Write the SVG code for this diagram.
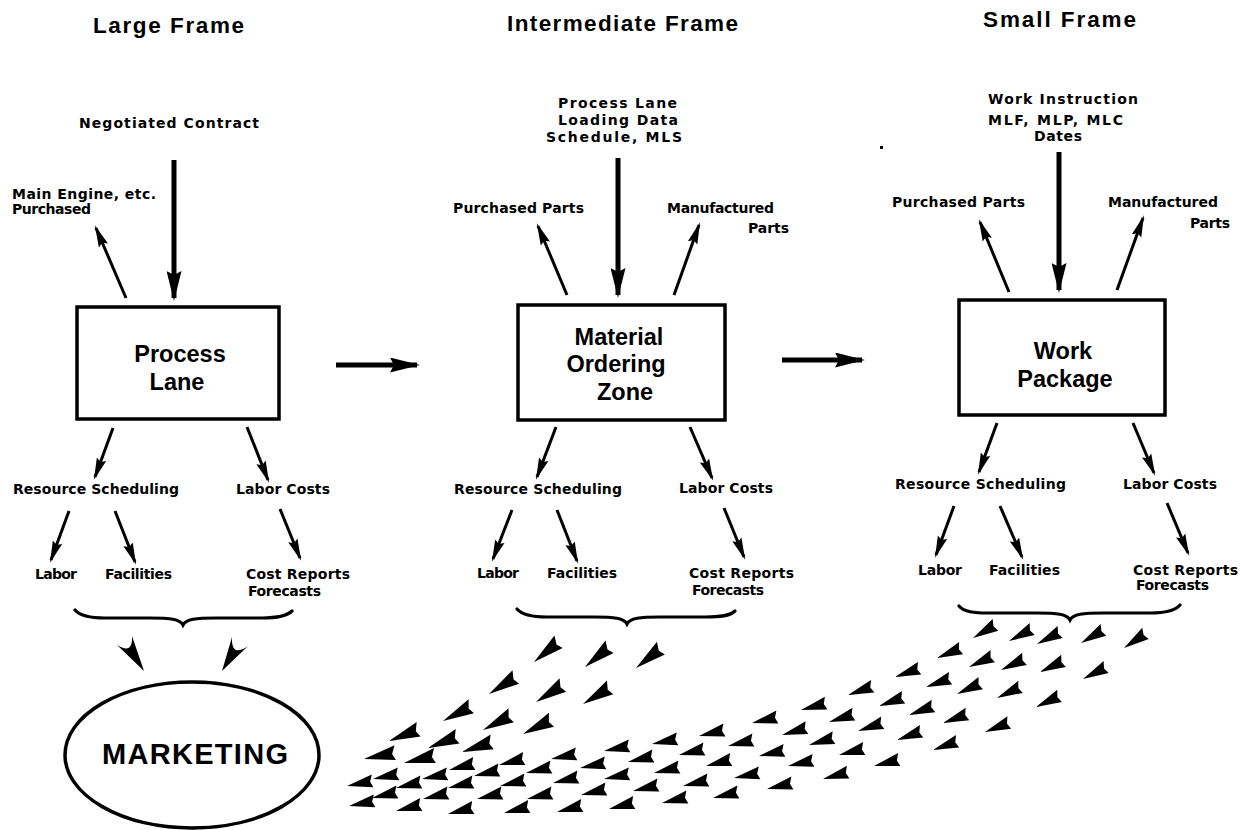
<svg xmlns="http://www.w3.org/2000/svg" xmlns:xlink="http://www.w3.org/1999/xlink" width="1241" height="830" viewBox="0 0 1241 830">
<style>
.t{font-family:"Liberation Sans",Arial,sans-serif;font-weight:bold;fill:#000}
.l{font-family:"DejaVu Sans","Liberation Sans",Arial,sans-serif;font-weight:bold;fill:#000;font-size:14px}
.ttl{font-size:22.5px}
.bx{font-size:23.5px;text-anchor:middle}
.mk{font-size:29px}
.box{fill:#fff;stroke:#000;stroke-width:3.5}
.thin{stroke:#000;stroke-width:3;fill:none;marker-end:url(#mt)}
.thick{stroke:#000;stroke-width:5;fill:none;marker-end:url(#mb)}
.brace{fill:none;stroke:#000;stroke-width:3.2;stroke-linecap:round}
.dart{fill:#000}
</style>
<defs>
<marker id="mt" markerUnits="userSpaceOnUse" viewBox="0 0 22 11" markerWidth="22" markerHeight="11" refX="19" refY="5.5" orient="auto"><path d="M0,0.5 L22,5.5 L0,10.5 L3,5.5 Z" fill="#000"/></marker>
<marker id="mb" markerUnits="userSpaceOnUse" viewBox="0 0 30 15" markerWidth="30" markerHeight="15" refX="27" refY="7.5" orient="auto"><path d="M0,0 L30,7.5 L0,15 L4,7.5 Z" fill="#000"/></marker>
<path id="ds" class="dart" d="M0,0 L26,-8.5 L23.5,-1.5 L26,4.5 Z"/>
<path id="dl" class="dart" d="M0,0 L32,-10 L28.5,-1.5 L31.5,5 Z"/>
</defs>
<rect width="1241" height="830" fill="#fff"/>

<g id="titles">
<text class="t ttl" x="93" y="33" textLength="151" lengthAdjust="spacing">Large Frame</text>
<text class="t ttl" x="507" y="31" textLength="231" lengthAdjust="spacing">Intermediate Frame</text>
<text class="t ttl" x="983" y="27" textLength="153" lengthAdjust="spacing">Small Frame</text>
</g>

<g id="node-process-lane">
<rect class="box" x="77" y="307" width="202" height="112"/>
<text class="t bx" x="180" y="362">Process</text>
<text class="t bx" x="177" y="390">Lane</text>
</g>
<g id="node-material-ordering-zone">
<rect class="box" x="518" y="305" width="207" height="115"/>
<text class="t bx" x="619" y="345">Material</text>
<text class="t bx" x="616" y="372">Ordering</text>
<text class="t bx" x="625" y="400">Zone</text>
</g>
<g id="node-work-package">
<rect class="box" x="959" y="300" width="206" height="115"/>
<text class="t bx" x="1063" y="359">Work</text>
<text class="t bx" x="1065" y="387">Package</text>
</g>
<g id="node-marketing">
<ellipse cx="192" cy="755" rx="127" ry="73" fill="#fff" stroke="#000" stroke-width="3.5"/>
<text class="t mk" x="102" y="764" textLength="186" lengthAdjust="spacing">MARKETING</text>
</g>

<g id="labels-large">
<text class="l" x="79" y="128" textLength="180" lengthAdjust="spacing">Negotiated Contract</text>
<text class="l" x="12" y="199" textLength="144" lengthAdjust="spacing">Main Engine, etc.</text>
<text class="l" x="12" y="214" textLength="79" lengthAdjust="spacing">Purchased</text>
<text class="l" x="13" y="494" textLength="166" lengthAdjust="spacing">Resource Scheduling</text>
<text class="l" x="236" y="494" textLength="94" lengthAdjust="spacing">Labor Costs</text>
<text class="l" x="35" y="579" textLength="42" lengthAdjust="spacing">Labor</text>
<text class="l" x="105" y="579" textLength="67" lengthAdjust="spacing">Facilities</text>
<text class="l" x="246" y="579" textLength="104" lengthAdjust="spacing">Cost Reports</text>
<text class="l" x="248" y="596" textLength="73" lengthAdjust="spacing">Forecasts</text>
</g>
<g id="labels-intermediate">
<text class="l" x="558" y="108" textLength="119" lengthAdjust="spacing">Process Lane</text>
<text class="l" x="558" y="125" textLength="120" lengthAdjust="spacing">Loading Data</text>
<text class="l" x="546" y="142" textLength="136" lengthAdjust="spacing">Schedule, MLS</text>
<text class="l" x="453" y="213" textLength="131" lengthAdjust="spacing">Purchased Parts</text>
<text class="l" x="667" y="213" textLength="107" lengthAdjust="spacing">Manufactured</text>
<text class="l" x="748" y="233" textLength="41" lengthAdjust="spacing">Parts</text>
<text class="l" x="454" y="494" textLength="168" lengthAdjust="spacing">Resource Scheduling</text>
<text class="l" x="679" y="493" textLength="94" lengthAdjust="spacing">Labor Costs</text>
<text class="l" x="477" y="578" textLength="42" lengthAdjust="spacing">Labor</text>
<text class="l" x="547" y="578" textLength="70" lengthAdjust="spacing">Facilities</text>
<text class="l" x="689" y="578" textLength="105" lengthAdjust="spacing">Cost Reports</text>
<text class="l" x="692" y="595" textLength="72" lengthAdjust="spacing">Forecasts</text>
</g>
<g id="labels-small">
<text class="l" x="988" y="104" textLength="150" lengthAdjust="spacing">Work Instruction</text>
<text class="l" x="988" y="125" textLength="135" lengthAdjust="spacing">MLF, MLP, MLC</text>
<text class="l" x="1034" y="141" textLength="48" lengthAdjust="spacing">Dates</text>
<text class="l" x="892" y="207" textLength="133" lengthAdjust="spacing">Purchased Parts</text>
<text class="l" x="1108" y="207" textLength="110" lengthAdjust="spacing">Manufactured</text>
<text class="l" x="1190" y="228" textLength="40" lengthAdjust="spacing">Parts</text>
<text class="l" x="895" y="489" textLength="171" lengthAdjust="spacing">Resource Scheduling</text>
<text class="l" x="1123" y="489" textLength="94" lengthAdjust="spacing">Labor Costs</text>
<text class="l" x="918" y="575" textLength="44" lengthAdjust="spacing">Labor</text>
<text class="l" x="989" y="575" textLength="71" lengthAdjust="spacing">Facilities</text>
<text class="l" x="1133" y="575" textLength="105" lengthAdjust="spacing">Cost Reports</text>
<text class="l" x="1136" y="590" textLength="73" lengthAdjust="spacing">Forecasts</text>
</g>

<g id="connectors">
<line class="thick" x1="174" y1="160" x2="174" y2="298"/>
<line class="thick" x1="618" y1="158" x2="618" y2="295"/>
<line class="thick" x1="1059" y1="152" x2="1059" y2="290"/>
<line class="thick" x1="336" y1="365" x2="417" y2="365"/>
<line class="thick" x1="782" y1="360" x2="862" y2="360"/>

<line class="thin" x1="126" y1="298" x2="96" y2="228"/>
<line class="thin" x1="567" y1="295" x2="538" y2="226"/>
<line class="thin" x1="674" y1="295" x2="699" y2="225"/>
<line class="thin" x1="1009" y1="292" x2="980" y2="222"/>
<line class="thin" x1="1117" y1="290" x2="1143" y2="218"/>

<line class="thin" x1="113" y1="428" x2="95" y2="477"/>
<line class="thin" x1="247" y1="427" x2="268" y2="480"/>
<line class="thin" x1="69" y1="511" x2="51" y2="560"/>
<line class="thin" x1="115" y1="511" x2="135" y2="562"/>
<line class="thin" x1="280" y1="509" x2="300" y2="558"/>

<line class="thin" x1="556" y1="427" x2="537" y2="477"/>
<line class="thin" x1="690" y1="427" x2="712" y2="478"/>
<line class="thin" x1="512" y1="510" x2="493" y2="559"/>
<line class="thin" x1="557" y1="510" x2="577" y2="561"/>
<line class="thin" x1="724" y1="508" x2="744" y2="557"/>

<line class="thin" x1="997" y1="423" x2="979" y2="472"/>
<line class="thin" x1="1133" y1="423" x2="1154" y2="473"/>
<line class="thin" x1="954" y1="506" x2="936" y2="555"/>
<line class="thin" x1="1000" y1="506" x2="1022" y2="557"/>
<line class="thin" x1="1167" y1="503" x2="1188" y2="553"/>

<path class="brace" d="M75,610 C80,616 90,618 105,618 L150,618 C170,618 180,619 183,625 C186,619 196,618 216,618 L262,618 C277,618 287,616 292,611"/>
<path class="brace" d="M517,609 C522,615 532,617 547,617 L594,617 C614,617 624,618 627,624 C630,618 640,617 660,617 L705,617 C720,617 730,616 735,611"/>
<path class="brace" d="M959,606 C964,612 974,613 989,613 L1037,613 C1057,613 1067,614 1070,620 C1073,614 1083,613 1103,613 L1150,613 C1165,613 1175,611 1180,605"/>

<path class="dart" d="M144,671 L117,645 Q133,655 132,636 Z"/>
<path class="dart" d="M222,671 L232,637 Q231,658 248,646 Z"/>
<path class="dart" d="M880,146 L883,146 L883,149 L880,149 Z"/>

<use href="#dl" transform="translate(534,662) rotate(-35)"/>
<use href="#dl" transform="translate(585,667) rotate(-35)"/>
<use href="#dl" transform="translate(636,668) rotate(-34)"/>
<use href="#dl" transform="translate(489,694) rotate(-28)"/>
<use href="#dl" transform="translate(536,702) rotate(-28)"/>
<use href="#dl" transform="translate(583,704) rotate(-27)"/>
<use href="#dl" transform="translate(443,721) rotate(-23)"/>
<use href="#dl" transform="translate(483,730) rotate(-23)"/>
<use href="#dl" transform="translate(523,734) rotate(-22)"/>
<use href="#dl" transform="translate(389,741) rotate(-17)"/>
<use href="#dl" transform="translate(428,748) rotate(-17)"/>
<use href="#dl" transform="translate(462,752) rotate(-14)"/>
<use href="#dl" transform="translate(364,759) rotate(-7)"/>
<use href="#dl" transform="translate(404,763) rotate(-9)"/>

<use href="#ds" transform="translate(973,638) rotate(-26)"/>
<use href="#ds" transform="translate(1009,641) rotate(-23)"/>
<use href="#ds" transform="translate(1037,644) rotate(-23)"/>
<use href="#ds" transform="translate(1081,643) rotate(-26)"/>
<use href="#ds" transform="translate(1124,648) rotate(-30)"/>
<use href="#ds" transform="translate(937,658) rotate(-18)"/>
<use href="#ds" transform="translate(969,667) rotate(-20)"/>
<use href="#ds" transform="translate(1001,670) rotate(-21)"/>
<use href="#ds" transform="translate(1040,672) rotate(-21)"/>
<use href="#ds" transform="translate(1083,679) rotate(-23)"/>
<use href="#ds" transform="translate(895,677) rotate(-15)"/>
<use href="#ds" transform="translate(926,687) rotate(-15)"/>
<use href="#ds" transform="translate(957,694) rotate(-20)"/>
<use href="#ds" transform="translate(997,698) rotate(-21)"/>
<use href="#ds" transform="translate(1036,707) rotate(-21)"/>
<use href="#ds" transform="translate(848,695) rotate(-15)"/>
<use href="#ds" transform="translate(879,706) rotate(-15)"/>
<use href="#ds" transform="translate(909,715) rotate(-16)"/>
<use href="#ds" transform="translate(943,723) rotate(-16)"/>
<use href="#ds" transform="translate(985,732) rotate(-17)"/>
<use href="#ds" transform="translate(801,710) rotate(-11)"/>
<use href="#ds" transform="translate(829,722) rotate(-13)"/>
<use href="#ds" transform="translate(858,731) rotate(-14)"/>
<use href="#ds" transform="translate(897,740) rotate(-15)"/>
<use href="#ds" transform="translate(933,750) rotate(-15)"/>
<use href="#ds" transform="translate(782,735) rotate(-12)"/>
<use href="#ds" transform="translate(809,745) rotate(-12)"/>
<use href="#ds" transform="translate(839,755) rotate(-10)"/>
<use href="#ds" transform="translate(874,766) rotate(-10)"/>
<use href="#ds" transform="translate(788,766) rotate(-8)"/>
<use href="#ds" transform="translate(823,779) rotate(-11)"/>

<use href="#ds" transform="translate(752,723) rotate(-9)"/>
<use href="#ds" transform="translate(699,736) rotate(-9)"/>
<use href="#ds" transform="translate(652,744) rotate(-7)"/>
<use href="#ds" transform="translate(604,751) rotate(-7)"/>
<use href="#ds" transform="translate(551,759) rotate(-7)"/>
<use href="#ds" transform="translate(499,765) rotate(-10)"/>
<use href="#ds" transform="translate(449,770) rotate(-10)"/>

<use href="#ds" transform="translate(728,746) rotate(-9)"/>
<use href="#ds" transform="translate(679,755) rotate(-9)"/>
<use href="#ds" transform="translate(628,762) rotate(-9)"/>
<use href="#ds" transform="translate(580,768) rotate(-7)"/>
<use href="#ds" transform="translate(526,773) rotate(-9)"/>
<use href="#ds" transform="translate(474,776) rotate(-9)"/>
<use href="#ds" transform="translate(422,779) rotate(-7)"/>
<use href="#ds" transform="translate(373,779) rotate(-7)"/>

<use href="#ds" transform="translate(759,756) rotate(-8)"/>
<use href="#ds" transform="translate(706,766) rotate(-10)"/>
<use href="#ds" transform="translate(654,773) rotate(-9)"/>
<use href="#ds" transform="translate(604,779) rotate(-7)"/>
<use href="#ds" transform="translate(553,783) rotate(-9)"/>
<use href="#ds" transform="translate(500,786) rotate(-9)"/>
<use href="#ds" transform="translate(448,788) rotate(-9)"/>
<use href="#ds" transform="translate(396,788) rotate(-9)"/>
<use href="#ds" transform="translate(347,786) rotate(-7)"/>

<use href="#ds" transform="translate(734,778) rotate(-7)"/>
<use href="#ds" transform="translate(683,786) rotate(-9)"/>
<use href="#ds" transform="translate(633,791) rotate(-9)"/>
<use href="#ds" transform="translate(581,795) rotate(-9)"/>
<use href="#ds" transform="translate(527,799) rotate(-9)"/>
<use href="#ds" transform="translate(477,799) rotate(-9)"/>
<use href="#ds" transform="translate(423,799) rotate(-9)"/>
<use href="#ds" transform="translate(372,798) rotate(-9)"/>

<use href="#ds" transform="translate(767,789) rotate(-9)"/>
<use href="#ds" transform="translate(713,798) rotate(-9)"/>
<use href="#ds" transform="translate(662,803) rotate(-9)"/>
<use href="#ds" transform="translate(609,809) rotate(-10)"/>
<use href="#ds" transform="translate(557,812) rotate(-10)"/>
<use href="#ds" transform="translate(504,813) rotate(-10)"/>
<use href="#ds" transform="translate(448,814) rotate(-10)"/>
<use href="#ds" transform="translate(396,811) rotate(-10)"/>
<use href="#ds" transform="translate(349,806) rotate(-7)"/>
</g>
</svg>
